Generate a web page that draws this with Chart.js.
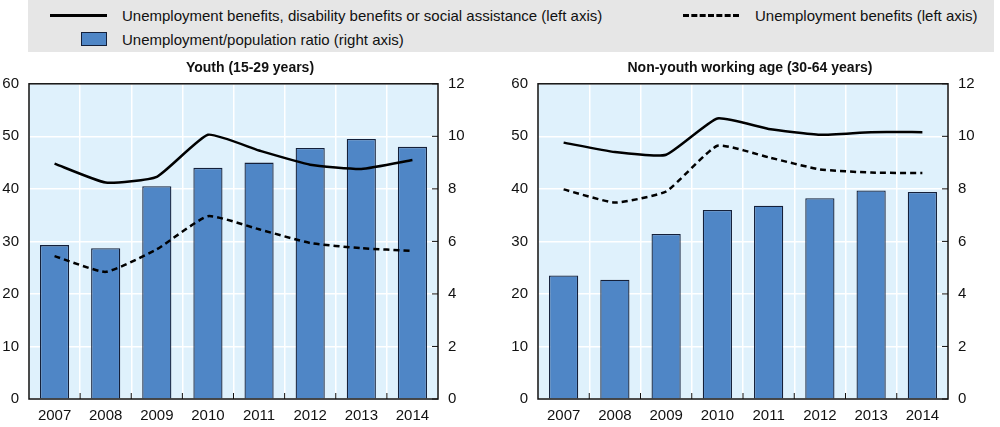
<!DOCTYPE html>
<html>
<head>
<meta charset="utf-8">
<script src="https://cdn.jsdelivr.net/npm/chart.js@4/dist/chart.umd.min.js"></script>
<style>
  body { margin: 0; width: 1000px; height: 427px; position: relative; background: #fff; overflow: hidden;
         font-family: "Liberation Sans Narrow", "Arial Narrow", "Liberation Sans", sans-serif; }
  #legend { position: absolute; left: 28px; top: 0; width: 966px; height: 52px; background: #e6e6e6; font-size: 15px; color: #111; }
  .item { position: absolute; display: flex; align-items: center; height: 18px; white-space: nowrap; }
  .solid { width: 57px; border-top: 3px solid #000; margin-right: 15px; }
  .dash { width: 56px; height: 0; border-top: 3px dashed #000; margin-right: 16px; }
  .box { width: 24px; height: 12px; background: #4f86c6; border: 1px solid #14203a; margin-right: 15px; }
  .wrap { position: absolute; top: 55px; width: 500px; height: 372px; }
</style>
</head>
<body>
<div id="legend">
  <div class="item" style="left:22px;top:6px"><span class="solid"></span>Unemployment benefits, disability benefits or social assistance (left axis)</div>
  <div class="item" style="left:655px;top:6px"><span class="dash"></span>Unemployment benefits (left axis)</div>
  <div class="item" style="left:53px;top:30px"><span class="box"></span>Unemployment/population ratio (right axis)</div>
</div>
<div class="wrap" style="left:0"><canvas id="c1"></canvas></div>
<div class="wrap" style="left:500px"><canvas id="c2"></canvas></div>
<script>
const years = ['2007', '2008', '2009', '2010', '2011', '2012', '2013', '2014'];

// Youth (15-29)
const youthAll = [44.8, 41.2, 42.3, 50.3, 47.3, 44.6, 43.8, 45.5];
const youthUB = [27.2, 24.2, 28.5, 34.8, 32.3, 29.7, 28.7, 28.2];
const youthRatio = [5.86, 5.74, 8.1, 8.8, 9.0, 9.56, 9.9, 9.6];

// Non-youth working age (30-64)
const adultAll = [48.8, 47.0, 46.5, 53.4, 51.4, 50.3, 50.8, 50.8];
const adultUB = [39.9, 37.4, 39.5, 48.2, 46.0, 43.7, 43.1, 43.0];
const adultRatio = [4.7, 4.54, 6.28, 7.2, 7.36, 7.64, 7.94, 7.88];

const FONT = '"Liberation Sans Narrow", "Arial Narrow", "Liberation Sans", sans-serif';
Chart.defaults.font.family = FONT;
Chart.defaults.color = '#111';

// plot background, frame and inner tick marks
const frame = {
  id: 'frame',
  beforeDraw(chart) {
    const { ctx, chartArea: a } = chart;
    ctx.save();
    ctx.fillStyle = '#dff1fc';
    ctx.fillRect(a.left, a.top, a.right - a.left, a.bottom - a.top);
    ctx.restore();
  },
  afterDraw(chart) {
    const { ctx, chartArea: a, scales } = chart;
    ctx.save();
    ctx.strokeStyle = '#111';
    ctx.lineWidth = 1.5;
    ctx.strokeRect(a.left, a.top, a.right - a.left, a.bottom - a.top);
    ctx.lineWidth = 1;
    ctx.beginPath();
    scales.y2.ticks.forEach((t, i) => {
      const y = scales.y2.getPixelForTick(i);
      ctx.moveTo(a.right - 6, y); ctx.lineTo(a.right, y);
    });
    const x = scales.x;
    for (let i = 1; i < years.length; i++) {
      const px = (x.getPixelForValue(i - 1) + x.getPixelForValue(i)) / 2;
      ctx.moveTo(px, a.bottom); ctx.lineTo(px, a.bottom - 6);
    }
    ctx.stroke();
    ctx.restore();
  }
};

function makeChart(id, title, all, ub, ratio, leftW, rightW) {
  return new Chart(document.getElementById(id), {
    data: {
      labels: years,
      datasets: [
        { type: 'line', data: all, yAxisID: 'y', borderColor: '#000', borderWidth: 2.5, pointRadius: 0, tension: 0.15, order: 1 },
        { type: 'line', data: ub, yAxisID: 'y', borderColor: '#000', borderWidth: 2.5, borderDash: [6, 4], pointRadius: 0, tension: 0.15, order: 2 },
        { type: 'bar', data: ratio, yAxisID: 'y2', backgroundColor: '#4f86c6', borderColor: '#14203a', borderWidth: 1.3,
          barPercentage: 0.57, categoryPercentage: 1, order: 3 }
      ]
    },
    options: {
      responsive: false,
      animation: false,
      layout: { padding: 0 },
      plugins: {
        legend: { display: false },
        tooltip: { enabled: false },
        title: { display: true, text: title, font: { size: 14, weight: 'bold' }, padding: { top: 5, bottom: 7 }, color: '#111' }
      },
      scales: {
        x: {
          offset: true,
          grid: { offset: true, color: '#fff', lineWidth: 1.5, drawTicks: false },
          border: { display: false },
          ticks: { font: { size: 15 }, padding: 8, maxRotation: 0 },
          afterFit(s) { s.height = 28; }
        },
        y: {
          position: 'left', min: 0, max: 60,
          ticks: { stepSize: 10, font: { size: 15 }, padding: 10 },
          grid: { color: '#fff', lineWidth: 1.5, drawTicks: false },
          border: { display: false },
          afterFit(s) { s.width = leftW; }
        },
        y2: {
          position: 'right', min: 0, max: 12,
          ticks: { stepSize: 2, font: { size: 15 }, padding: 10 },
          grid: { drawOnChartArea: false, drawTicks: false },
          border: { display: false },
          afterFit(s) { s.width = rightW; }
        }
      }
    },
    plugins: [frame]
  });
}

function sizeCanvas(id) {
  const c = document.getElementById(id);
  c.width = 500; c.height = 372;
  c.style.width = '500px'; c.style.height = '372px';
}
sizeCanvas('c1'); sizeCanvas('c2');
makeChart('c1', 'Youth (15-29 years)', youthAll, youthUB, youthRatio, 29, 62);
makeChart('c2', 'Non-youth working age (30-64 years)', adultAll, adultUB, adultRatio, 38, 52);
</script>
</body>
</html>
